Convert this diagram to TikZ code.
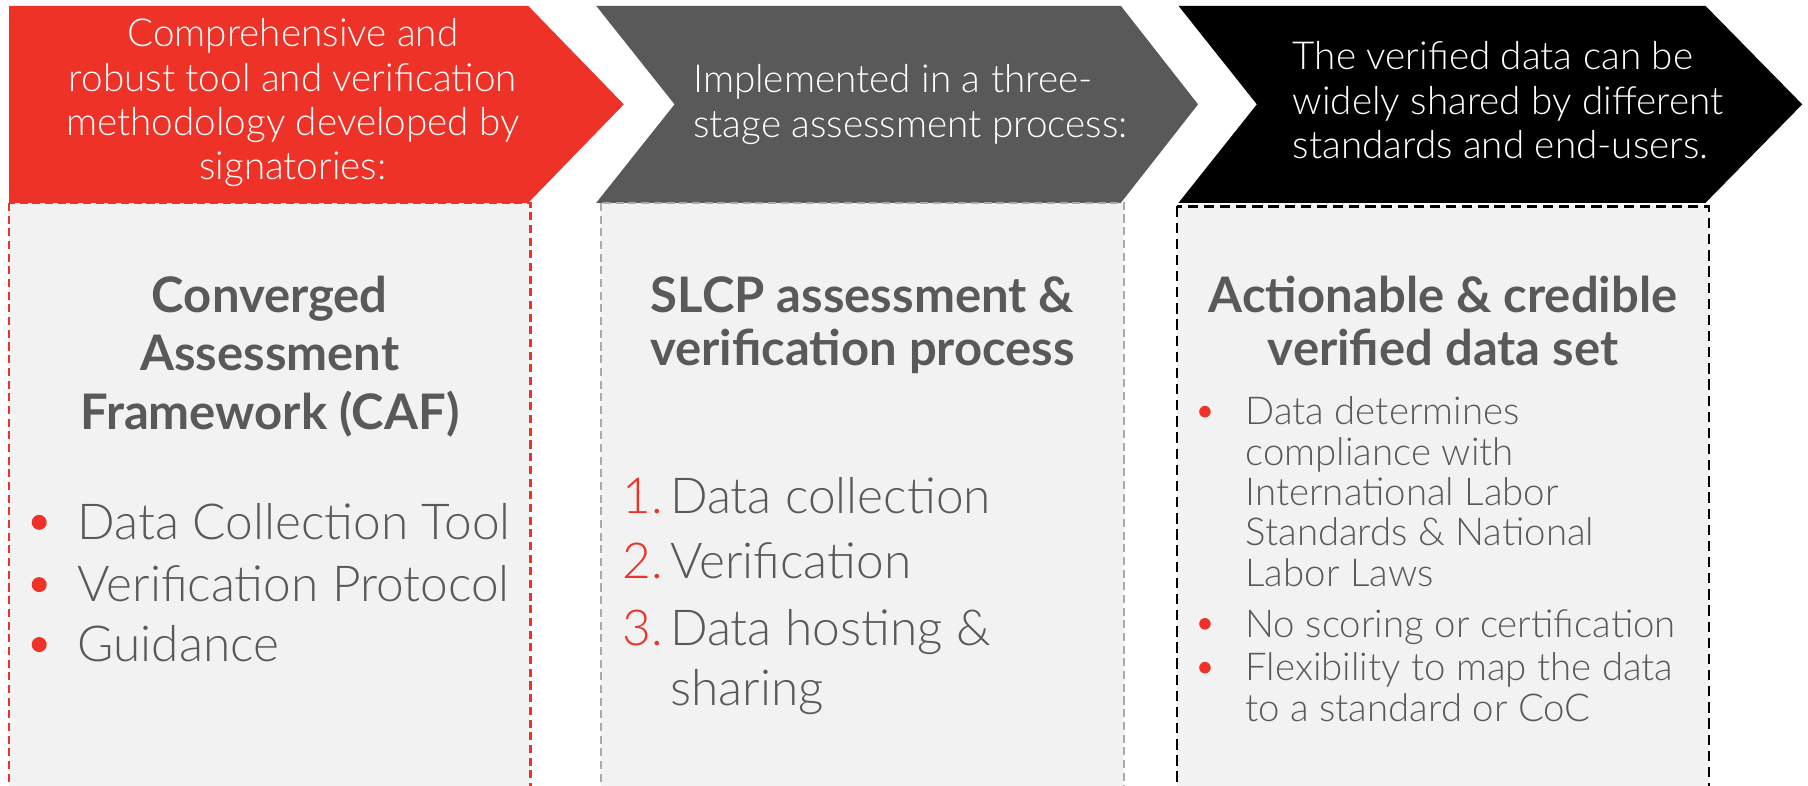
\documentclass[tikz,border=0pt]{standalone}
\usepackage{fontspec}
\usepackage{xcolor}
\usepackage{tikz}
\setmainfont{Lato}
\IfFontExistsTF{Lato Light}{\newfontfamily\lightfont{Lato Light}}{\newfontfamily\lightfont{Lato}}
\definecolor{slcpred}{RGB}{238,50,39}
\definecolor{slcpgray}{RGB}{89,89,89}
\definecolor{boxgray}{RGB}{242,242,242}
\definecolor{dashgray}{RGB}{170,170,170}

\begin{document}
\begin{tikzpicture}[x=1pt, y=-1pt,
    headtext/.style={text=white, font=\lightfont\fontsize{33.5}{38.5}\selectfont, inner sep=0pt},
    boxtitle/.style={text=slcpgray, font=\bfseries\fontsize{42.5}{46}\selectfont, align=center, inner sep=0pt, anchor=base},
    itemtext/.style={text=slcpgray, font=\lightfont\fontsize{43}{52}\selectfont, align=left, inner sep=0pt, anchor=base west},
    smalltext/.style={text=slcpgray, font=\lightfont\fontsize{33.3}{35}\selectfont, align=left, inner sep=0pt, anchor=base west},
    reddot/.style={fill=slcpred, circle, inner sep=0pt, minimum size=#1},
    reddot/.default=13pt]
            \useasboundingbox (0,0) rectangle (1568,680.8);
            \clip (0,0) rectangle (1568,680.8);

            % Chevrons
            \fill[slcpred] (8,5) -- (458,5) -- (541,90.5) -- (458,176) -- (8,176) -- cycle;
            \fill[slcpgray] (517,5) -- (972,5) -- (1039,90.5) -- (972,176) -- (517,176) -- (585,90.5) -- cycle;
            \fill[black] (1022,5) -- (1479,5) -- (1563,90.5) -- (1479,176) -- (1022,176) -- (1090,90.5) -- cycle;

            % (base = baseline of the last line)
            \node[headtext, align=center, anchor=base] (redtext) at (254,156)
                {Comprehensive and\\robust tool and verification\\methodology developed by\\signatories:};
            \node[headtext, align=left, anchor=base west] (graytext) at (601,119)
                {Implemented in a three-\\stage assessment process:};
            \node[headtext, align=left, anchor=base west] (blacktext) at (1121,137.5)
                {The verified data can be\\widely shared by different\\standards and end-users.};

            % Boxes below the chevrons
            \filldraw[fill=boxgray, draw=slcpred, line width=2pt, dash pattern=on 7pt off 4pt] (8,176) rectangle (460,700);
            \filldraw[fill=boxgray, draw=dashgray, line width=2pt, dash pattern=on 7pt off 4pt] (521,176) rectangle (975,700);
            \filldraw[fill=boxgray, draw=black, line width=2pt, dash pattern=on 9pt off 5pt] (1021,179) rectangle (1482,700);

            % Box 1: CAF
            \node[boxtitle, font=\bfseries\fontsize{42.5}{51}\selectfont] (cafhead) at (234,372.6)
                {Converged\\Assessment\\Framework (CAF)};
            \node[reddot] (cafdot1) at (34,453) {};
            \node[reddot] (cafdot2) at (34,507) {};
            \node[reddot] (cafdot3) at (34,559) {};
            \node[itemtext] (cafitem1) at (67,468) {Data Collection Tool};
            \node[itemtext] (cafitem2) at (67,522) {Verification Protocol};
            \node[itemtext] (cafitem3) at (67,574) {Guidance};

            % Box 2: SLCP process
            \node[boxtitle] (slcphead) at (748,316.6) {SLCP assessment \&\\verification process};
            \node[itemtext, text=slcpred] (slcpnum1) at (540,445) {1.};
            \node[itemtext, text=slcpred] (slcpnum2) at (540,502) {2.};
            \node[itemtext, text=slcpred] (slcpnum3) at (540,560) {3.};
            \node[itemtext] (slcpitem1) at (581,445) {Data collection};
            \node[itemtext] (slcpitem2) at (581,502) {Verification};
            \node[itemtext] (slcpitem3) at (581,612) {Data hosting \&\\sharing};

            % Box 3: verified data set
            \node[boxtitle] (datahead) at (1251.5,316.6) {Actionable \& credible\\verified data set};
            \node[reddot=10pt] (datadot1) at (1045,357) {};
            \node[reddot=10pt] (datadot2) at (1045,541) {};
            \node[reddot=10pt] (datadot3) at (1045,579) {};
            \node[smalltext] (dataitem1) at (1080,508.5)
                {Data determines\\compliance with\\International Labor\\Standards \& National\\Labor Laws};
            \node[smalltext] (dataitem2) at (1080,552.5) {No scoring or certification};
            \node[smalltext] (dataitem3) at (1080,625.5) {Flexibility to map the data\\to a standard or CoC};
        \end{tikzpicture}
\end{document}
